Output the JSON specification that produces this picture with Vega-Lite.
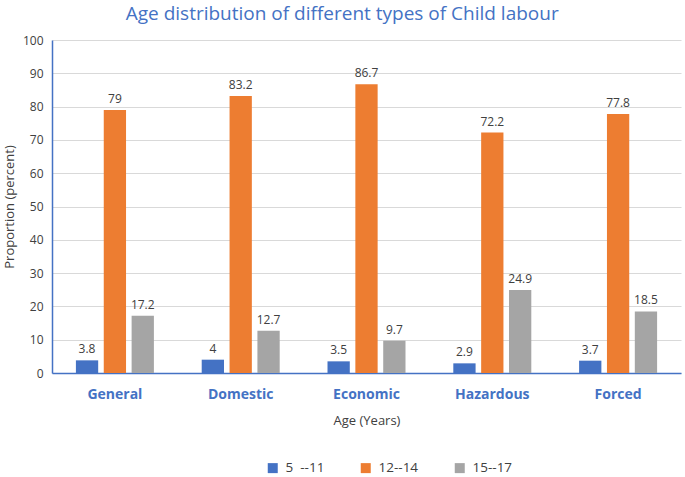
{
  "$schema": "https://vega.github.io/schema/vega-lite/v6.json",
  "width": 629,
  "height": 333,
  "padding": {"left": 3, "right": 3, "top": 5, "bottom": 2},
  "config": {"font": "Open Sans", "view": {"stroke": null}},
  "title": {"text": "Age distribution of different types of Child labour", "color": "#4472C4", "fontSize": 19, "fontWeight": "normal", "font": "Open Sans", "offset": 10, "anchor": "middle", "frame": "bounds"},
  "data": {"values": [
    {"type": "General", "age": "5  --11", "value": 3.8},
    {"type": "General", "age": "12--14", "value": 79},
    {"type": "General", "age": "15--17", "value": 17.2},
    {"type": "Domestic", "age": "5  --11", "value": 4},
    {"type": "Domestic", "age": "12--14", "value": 83.2},
    {"type": "Domestic", "age": "15--17", "value": 12.7},
    {"type": "Economic", "age": "5  --11", "value": 3.5},
    {"type": "Economic", "age": "12--14", "value": 86.7},
    {"type": "Economic", "age": "15--17", "value": 9.7},
    {"type": "Hazardous", "age": "5  --11", "value": 2.9},
    {"type": "Hazardous", "age": "12--14", "value": 72.2},
    {"type": "Hazardous", "age": "15--17", "value": 24.9},
    {"type": "Forced", "age": "5  --11", "value": 3.7},
    {"type": "Forced", "age": "12--14", "value": 77.8},
    {"type": "Forced", "age": "15--17", "value": 18.5}
  ]},
  "encoding": {
    "x": {"field": "type", "type": "nominal", "sort": ["General", "Domestic", "Economic", "Hazardous", "Forced"],
      "scale": {"paddingInner": 0.38, "paddingOuter": 0.19},
      "axis": {"title": "Age (Years)", "titleFontWeight": "normal", "titleFontSize": 13, "titleColor": "#404040", "titlePadding": 13,
        "labelAngle": 0, "labelFontWeight": "bold", "labelFontSize": 14, "labelColor": "#4472C4", "labelPadding": 14,
        "ticks": false, "domainColor": "#4472C4", "domainWidth": 1.5}},
    "xOffset": {"field": "age", "type": "nominal", "sort": ["5  --11", "12--14", "15--17"], "scale": {"paddingInner": 0.2}},
    "y": {"field": "value", "type": "quantitative", "scale": {"domain": [0, 100]},
      "axis": {"title": "Proportion (percent)", "titleFontWeight": "normal", "titleFontSize": 13, "titleColor": "#404040", "titlePadding": 6,
        "values": [0,10,20,30,40,50,60,70,80,90,100], "labelFontSize": 12, "labelColor": "#404040", "labelPadding": 9,
        "ticks": false, "domainColor": "#4472C4", "domainWidth": 1.5, "gridColor": "#d9d9d9"}}
  },
  "layer": [
    {"mark": {"type": "bar"},
     "encoding": {"color": {"field": "age", "type": "nominal", "sort": ["5  --11", "12--14", "15--17"],
       "scale": {"domain": ["5  --11", "12--14", "15--17"], "range": ["#4472C4", "#ED7D31", "#A5A5A5"]},
       "legend": {"orient": "none", "legendX": 214, "legendY": 421, "direction": "horizontal", "title": null,
         "labelExpr": "replace(datum.label, '  ', '\u00a0\u00a0')",
         "labelFontSize": 13.5, "labelColor": "#404040", "symbolType": "square", "symbolSize": 100, "symbolStrokeWidth": 0, "labelOffset": 6, "columnPadding": 34}}}},
    {"mark": {"type": "text", "dy": -11, "fontSize": 12, "color": "#404040"},
     "encoding": {"text": {"field": "value", "type": "quantitative"}}}
  ]
}
